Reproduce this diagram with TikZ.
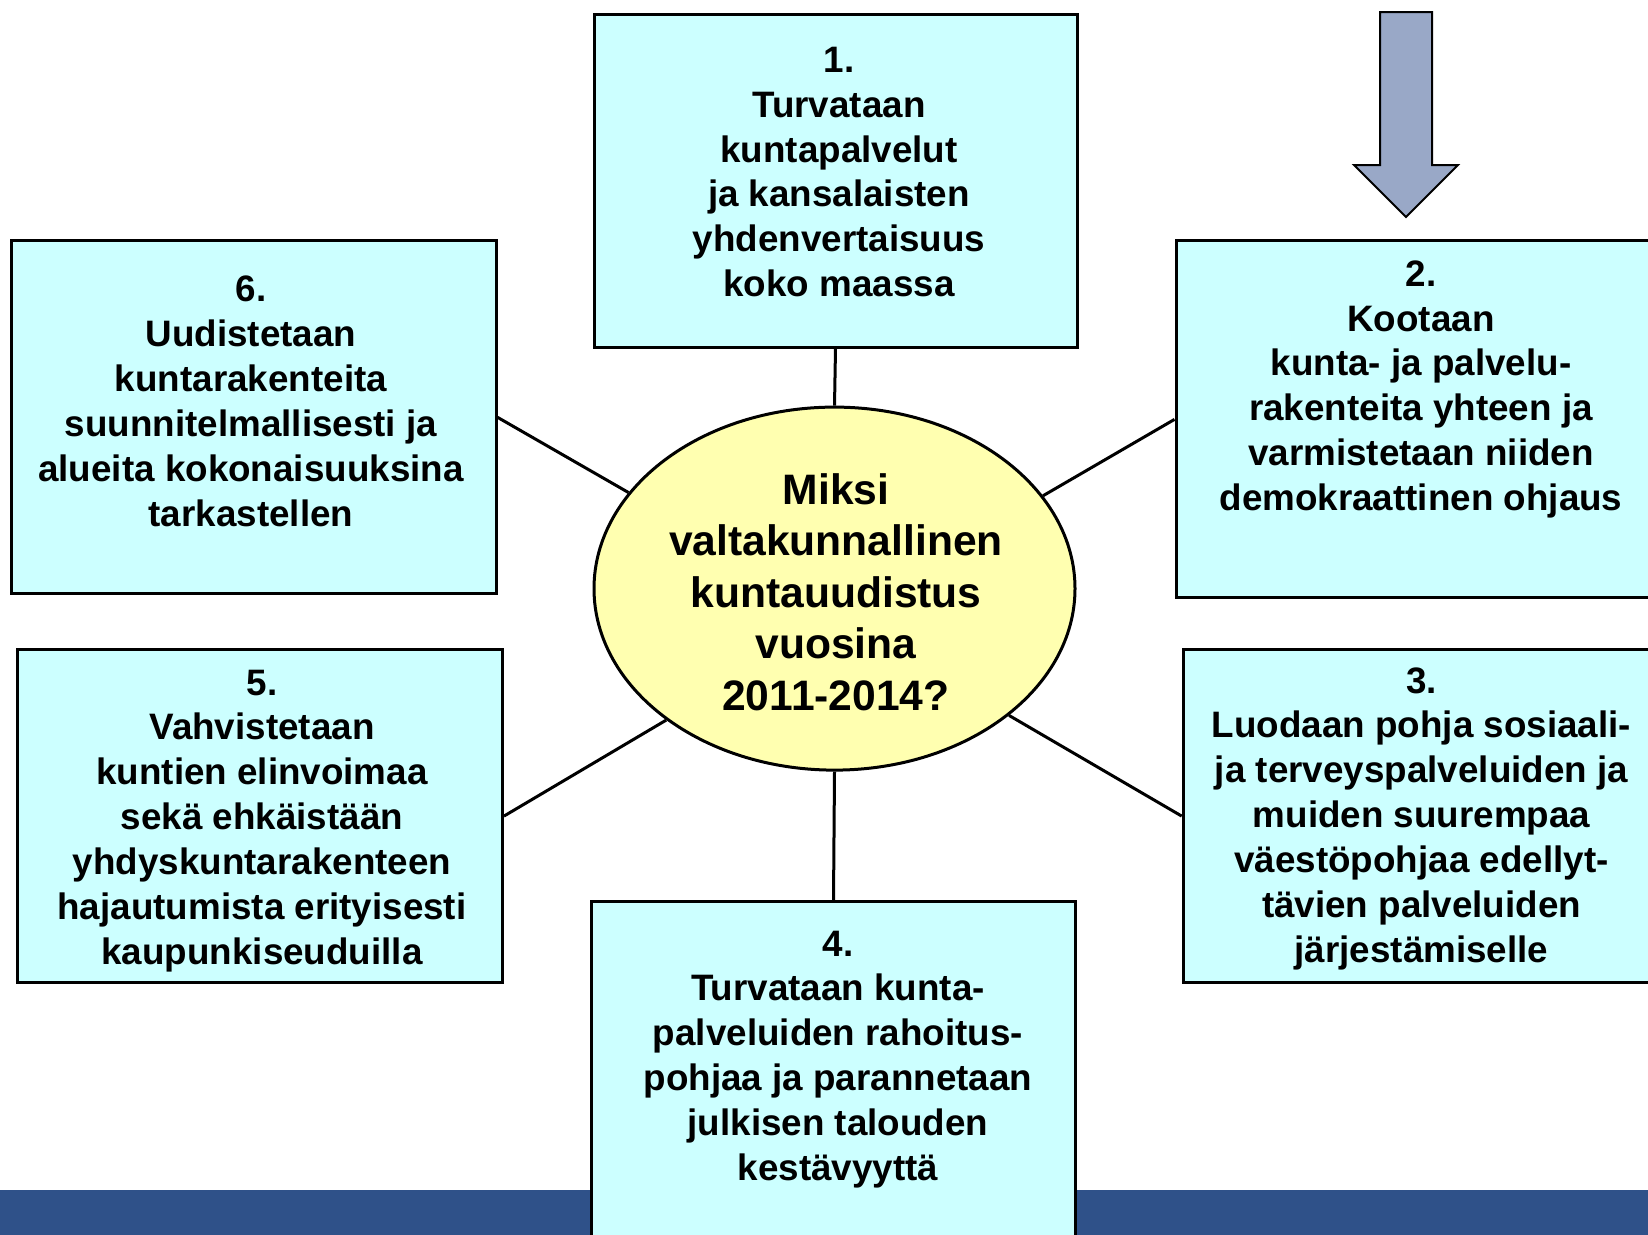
\documentclass[tikz,border=0pt]{standalone}
\usepackage{fontspec}
\setmainfont{Liberation Sans}
\usetikzlibrary{shapes.geometric}
\definecolor{boxfill}{HTML}{CCFFFF}
\definecolor{ellfill}{HTML}{FFFFB0}
\definecolor{barblue}{HTML}{2F5189}
\definecolor{arrowfill}{HTML}{99A8C7}
\begin{document}
\begin{tikzpicture}[x=1pt,y=-1pt,
  box/.style={draw=black, line width=3pt, fill=boxfill, rectangle, inner sep=0pt},
  boxtext/.style={align=center, font=\fontsize{36.8}{44.9}\selectfont\bfseries, inner sep=0pt},
  elltext/.style={align=center, font=\fontsize{42.6}{51.5}\selectfont\bfseries, inner sep=0pt},
  conn/.style={draw=black, line width=3pt}
]
\useasboundingbox (0,0) rectangle (1648,1234);
\clip (0,0) rectangle (1648,1234);
% bottom bar
\fill[barblue] (0,1189.7) rectangle (1648,1240);
% arrow
\draw[fill=arrowfill, line width=2pt, line join=miter] (1380,12) -- (1432,12) -- (1432,165) -- (1458,165) -- (1406,217) -- (1354,165) -- (1380,165) -- cycle;
% boxes
\node[box, minimum width=483pt, minimum height=333pt] (b1) at (835.5,180.5) {};
\node[box, minimum width=489pt, minimum height=357pt] (b2) at (1420.5,419.4) {};
\node[box, minimum width=482pt, minimum height=333pt] (b3) at (1424.2,816.1) {};
\node[box, minimum width=483.5pt, minimum height=348pt] (b4) at (833.5,1075.9) {};
\node[box, minimum width=484.5pt, minimum height=333pt] (b5) at (260.2,816.1) {};
\node[box, minimum width=484.4pt, minimum height=353pt] (b6) at (253.8,417.3) {};
% ellipse
\node[ellipse, draw=black, line width=3pt, fill=ellfill, minimum width=481pt, minimum height=363pt, inner sep=0pt] (ell) at (834.5,588.6) {};
% connectors
\draw[conn] (b1.south) -- (ell.north);
\draw[conn] (b4.north) -- (ell.south);
\draw[conn] (b6.east) -- (ell.155.1);
\draw[conn] (b2.west) -- (ell.24.1);
\draw[conn] (b5.east) -- (ell.218.2);
\draw[conn] (b3.west) -- (ell.-36);
% texts
\node[boxtext] (t1) at (839,172) {1.\\Turvataan\\kuntapalvelut\\ja kansalaisten\\yhdenvertaisuus\\koko maassa};
\node[boxtext] (t2) at (1421,389.4) {2.\\Kootaan\\kunta- ja palvelu-\\rakenteita yhteen ja\\varmistetaan niiden\\demokraattinen ohjaus};
\node[boxtext] (t3) at (1421.5,818.7) {3.\\Luodaan pohja sosiaali-\\ja terveyspalveluiden ja\\muiden suurempaa\\väestöpohjaa edellyt-\\tävien palveluiden\\järjestämiselle};
\node[boxtext] (t4) at (838,1059.4) {4.\\Turvataan kunta-\\palveluiden rahoitus-\\pohjaa ja parannetaan\\julkisen talouden\\kestävyyttä};
\node[boxtext] (t5) at (262,820.9) {5.\\Vahvistetaan\\kuntien elinvoimaa\\sekä ehkäistään\\yhdyskuntarakenteen\\hajautumista erityisesti\\kaupunkiseuduilla};
\node[boxtext] (t6) at (251,401.5) {6.\\Uudistetaan\\kuntarakenteita\\suunnitelmallisesti ja\\alueita kokonaisuuksina\\tarkastellen};
\node[elltext] (te) at (836,592.2) {Miksi\\valtakunnallinen\\kuntauudistus\\vuosina\\2011-2014?};
\end{tikzpicture}
\end{document}
